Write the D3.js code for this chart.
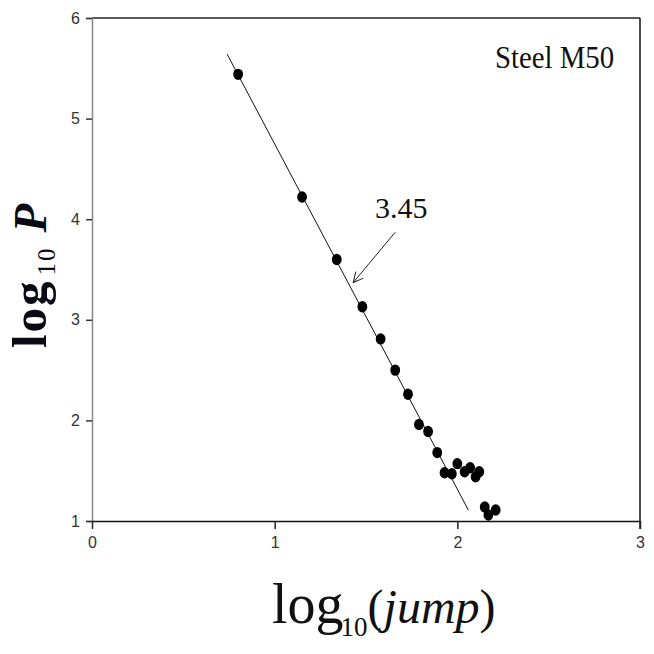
<!DOCTYPE html>
<meta charset="utf-8">
<style>
  body { margin: 0; background: #fff; }
  .tick text { font-family: "Liberation Sans", Arial, sans-serif; fill: #333; }
</style>
<body>
<script src="https://d3js.org/d3.v7.min.js"></script>
<script>
  // points: log10(jump) vs log10 P
  var jumpLog = [0.80, 1.15, 1.34, 1.48, 1.58, 1.66, 1.73, 1.79, 1.84, 1.89,
                 1.93, 1.97, 2.00, 2.04, 2.07, 2.10, 2.12, 2.15, 2.17, 2.21];
  var pLog    = [5.44, 4.22, 3.60, 3.13, 2.81, 2.50, 2.26, 1.96, 1.89, 1.68,
                 1.48, 1.47, 1.57, 1.49, 1.53, 1.44, 1.49, 1.14, 1.06, 1.11];
  // fitted line, slope -3.45
  var fitX = [0.74, 2.06];
  var fitY = [5.64, 1.11];
  // arrow pointing at the line
  var arrowX = [1.66, 1.43];
  var arrowY = [3.87, 3.37];
  var xTicks = [0, 1, 2, 3];
  var yTicks = [1, 2, 3, 4, 5, 6];

  var width = 654, height = 654;
  var margin = {top: 18, right: 14, bottom: 133, left: 92};

  var svg = d3.select("body").append("svg")
    .attr("width", width)
    .attr("height", height);

  var x = d3.scaleLinear().domain([0, 3]).range([margin.left, width - margin.right]);
  var y = d3.scaleLinear().domain([1, 6]).range([height - margin.bottom, margin.top]);

  // frame top / right
  svg.append("line")
    .attr("x1", x(0)).attr("x2", x(3))
    .attr("y1", y(6)).attr("y2", y(6))
    .attr("stroke", "#222").attr("stroke-width", 1.5);
  svg.append("line")
    .attr("x1", x(3)).attr("x2", x(3))
    .attr("y1", y(6)).attr("y2", y(1) + 8)
    .attr("stroke", "#111").attr("stroke-width", 1.5);

  // y axis
  var gy = svg.append("g")
    .attr("transform", "translate(" + x(0) + ",0)")
    .call(d3.axisLeft(y).tickValues(yTicks).tickSize(6).tickPadding(6).tickFormat(d3.format("d")));
  gy.select(".domain").attr("stroke", "#888").attr("stroke-width", 1.5);
  gy.selectAll(".tick line").attr("stroke", "#333").attr("stroke-width", 1.5);
  gy.selectAll(".tick text").style("font-size", "16px");

  // x axis
  var gx = svg.append("g")
    .attr("transform", "translate(0," + y(1) + ")")
    .call(d3.axisBottom(x).tickValues(xTicks).tickSizeInner(8).tickSizeOuter(0).tickPadding(8).tickFormat(d3.format("d")));
  gx.select(".domain").attr("stroke", "#111").attr("stroke-width", 1.5);
  gx.selectAll(".tick line").attr("stroke", "#222").attr("stroke-width", 1.5);
  gx.selectAll(".tick text").style("font-size", "16px");

  // fit line
  svg.append("line")
    .attr("x1", x(fitX[0])).attr("y1", y(fitY[0]))
    .attr("x2", x(fitX[1])).attr("y2", y(fitY[1]))
    .attr("stroke", "#111").attr("stroke-width", 1);

  // points
  svg.selectAll("ellipse.pt")
    .data(d3.range(jumpLog.length))
    .enter().append("ellipse")
    .attr("class", "pt")
    .attr("cx", function(i) { return x(jumpLog[i]); })
    .attr("cy", function(i) { return y(pLog[i]); })
    .attr("rx", 4.9)
    .attr("ry", 5.7)
    .attr("fill", "#000");

  // arrow with open head
  svg.append("defs").append("marker")
    .attr("id", "head")
    .attr("viewBox", "0 0 12 12")
    .attr("refX", 11).attr("refY", 6)
    .attr("markerWidth", 12).attr("markerHeight", 12)
    .attr("markerUnits", "userSpaceOnUse")
    .attr("orient", "auto")
    .append("path")
    .attr("d", "M1,1 L11,6 L1,11")
    .attr("fill", "none")
    .attr("stroke", "#222")
    .attr("stroke-width", 1);
  svg.append("line")
    .attr("x1", x(arrowX[0])).attr("y1", y(arrowY[0]))
    .attr("x2", x(arrowX[1])).attr("y2", y(arrowY[1]))
    .attr("stroke", "#222").attr("stroke-width", 1)
    .attr("marker-end", "url(#head)");

  svg.append("text")
    .attr("x", x(1.549)).attr("y", y(4.01))
    .style("font-family", "'Liberation Serif', 'Times New Roman', serif")
    .style("font-size", "30px")
    .attr("fill", "#111")
    .text("3.45");

  svg.append("text")
    .attr("transform", "translate(" + x(2.206) + "," + y(5.50) + ") scale(0.9,1)")
    .style("font-family", "'Liberation Serif', 'Times New Roman', serif")
    .style("font-size", "32px")
    .attr("fill", "#111")
    .text("Steel M50");

  // x title
  var xt = svg.append("text")
    .attr("x", 272).attr("y", 623)
    .style("font-family", "'Liberation Serif', 'Times New Roman', serif")
    .attr("fill", "#111");
  xt.append("tspan").style("font-size", "56px").text("log");
  xt.append("tspan").style("font-size", "27px").attr("dx", -3).attr("dy", 13).text("10");
  xt.append("tspan").style("font-size", "48px").attr("dy", -13).text("(");
  xt.append("tspan").style("font-size", "48px").style("font-style", "italic").text("jump");
  xt.append("tspan").style("font-size", "48px").text(")");

  // y title
  var yt = svg.append("text")
    .attr("transform", "rotate(-90)")
    .attr("x", -348).attr("y", 46)
    .style("font-family", "'Liberation Serif', 'Times New Roman', serif")
    .attr("fill", "#0a0a14");
  yt.append("tspan").style("font-size", "49px").style("font-weight", "bold")
    .style("letter-spacing", "2px").text("log");
  yt.append("tspan").style("font-size", "25px").style("letter-spacing", "2px")
    .attr("dx", 4).attr("dy", 9).text("10");
  yt.append("tspan").style("font-size", "47px").style("font-weight", "bold").style("font-style", "italic")
    .attr("dx", 14).attr("dy", -9).text("P");
</script>
</body>
